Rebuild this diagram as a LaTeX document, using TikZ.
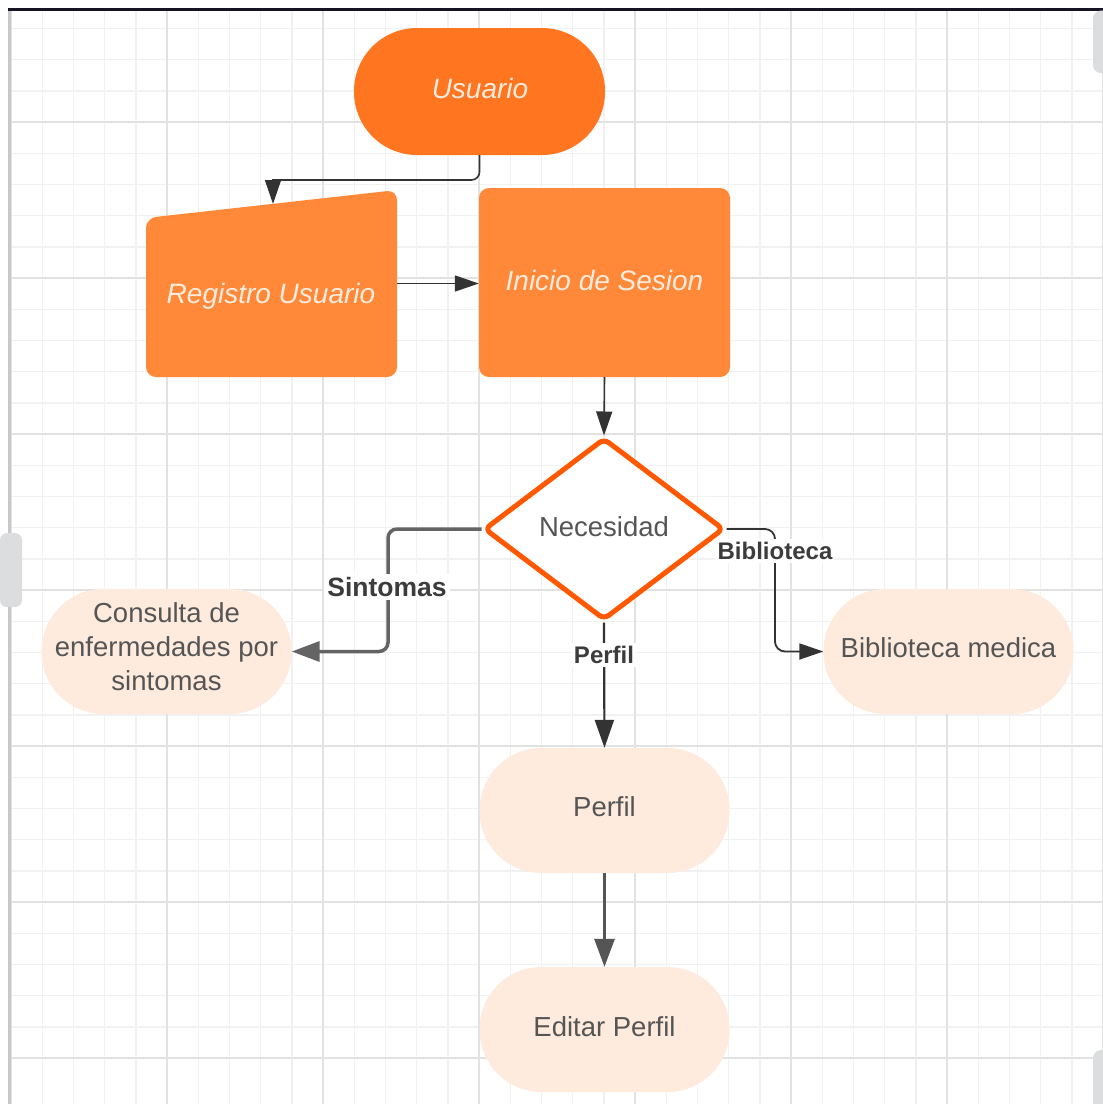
\documentclass[tikz,border=0pt]{standalone}
\usepackage{fontspec}
\setmainfont{Liberation Sans}
\usetikzlibrary{arrows.meta,shapes.geometric}
\definecolor{gridminor}{RGB}{241,241,241}
\definecolor{gridmajor}{RGB}{226,226,226}
\definecolor{usrfill}{RGB}{255,117,32}
\definecolor{boxfill}{RGB}{255,137,56}
\definecolor{lightfill}{RGB}{254,235,221}
\definecolor{necline}{RGB}{255,88,0}
\definecolor{txtgray}{RGB}{85,85,85}
\definecolor{lblgray}{RGB}{60,60,60}
\definecolor{darkline}{RGB}{51,51,51}
\definecolor{midgray}{RGB}{100,100,100}
\definecolor{wtxt}{RGB}{255,236,222}
\definecolor{tabgray}{RGB}{220,221,223}
\definecolor{leftborder}{RGB}{200,200,204}
\definecolor{topborder}{RGB}{22,20,36}
\tikzset{
  x=1pt, y=-1pt,
  stadium/.style={rectangle, rounded corners=62pt, fill=lightfill, minimum width=250pt, minimum height=125pt, inner sep=0pt},
  stxt/.style={text=txtgray, font=\fontsize{27.5}{34}\selectfont, align=center, inner sep=0pt},
  orangebox/.style={rectangle, rounded corners=10pt, fill=boxfill, minimum width=251pt, minimum height=189pt, inner sep=0pt},
  wlabel/.style={text=wtxt, font=\fontsize{28}{34}\selectfont\itshape, inner sep=0pt},
  edgelbl/.style={fill=white, inner sep=3pt, text=lblgray, font=\fontsize{24}{28}\selectfont\bfseries},
  thinarrow/.style={draw=darkline, line width=1.6pt, -{Triangle[length=24pt,width=16pt]}},
  midarrow/.style={draw=darkline, line width=2.2pt, -{Triangle[length=28pt,width=19pt]}},
  grayarrow/.style={draw=midgray, line width=3.5pt, -{Triangle[length=28pt,width=20pt]}},
}
\begin{document}
\begin{tikzpicture}
\useasboundingbox (0,0) rectangle (1103,1104);
\fill[white] (0,0) rectangle (1103,1104);
% grid
\begin{scope}
\clip (10,10) rectangle (1103,1104);
\foreach \k in {-5,...,30} {
  \pgfmathsetmacro{\gx}{167+31.2*\k}
  \pgfmathsetmacro{\gy}{122+31.2*\k}
  \draw[gridminor, line width=1.4pt] (\gx,10) -- (\gx,1104);
  \draw[gridminor, line width=1.4pt] (10,\gy) -- (1103,\gy);
}
\foreach \k in {-1,...,6} {
  \pgfmathsetmacro{\gx}{167+156*\k}
  \pgfmathsetmacro{\gy}{122+156*\k}
  \draw[gridmajor, line width=1.4pt] (\gx,10) -- (\gx,1104);
  \draw[gridmajor, line width=1.4pt] (10,\gy) -- (1103,\gy);
}
\end{scope}
% frame and tabs
\draw[leftborder, line width=3pt] (9,10) -- (9,1104);
\draw[topborder, line width=3pt] (8,9) -- (1103,9);
\fill[tabgray, rounded corners=8pt] (1093,10.5) rectangle (1115,73);
\fill[tabgray, rounded corners=8pt] (1093,1050) rectangle (1115,1115);
\fill[tabgray, rounded corners=7pt] (0,533) rectangle (22,607);

% nodes
\node[rectangle, rounded corners=63pt, fill=usrfill, minimum width=251pt, minimum height=127pt, inner sep=0pt] (usr) at (479.5,91.5) {};
\node[wlabel] (usrtxt) at (480,88) {Usuario};

\fill[boxfill, rounded corners=10pt] (146,218) -- (397,190) -- (397,377) -- (146,377) -- cycle;
\node[rectangle, minimum width=251pt, minimum height=187pt, inner sep=0pt] (reg) at (271.5,283.5) {};
\node[wlabel] (regtxt) at (271,296) {Registro Usuario};
\coordinate (regtop) at (273,204);

\node[orangebox] (ini) at (604.5,282.5) {};
\node[wlabel] (initxt) at (604.5,280) {Inicio de Sesion};

\node[diamond, aspect=1.32, minimum width=240pt, minimum height=182pt, inner sep=0pt, draw=necline, line width=5pt, rounded corners=6pt, fill=white] (nec) at (604,529) {};
\node[text=txtgray, font=\fontsize{27.5}{34}\selectfont, inner sep=0pt] (nectxt) at (604,527) {Necesidad};

\node[stadium] (con) at (166.5,651.5) {};
\node[stxt] (contxt) at (166.5,647) {Consulta de\\enfermedades por\\sintomas};
\node[stadium] (bib) at (948.5,651.5) {};
\node[stxt] (bibtxt) at (948.5,647.5) {Biblioteca medica};
\node[stadium] (per) at (604.5,810.5) {};
\node[stxt] (pertxt) at (604.5,807) {Perfil};
\node[stadium] (edi) at (604.5,1029.5) {};
\node[stxt] (editxt) at (604.5,1026.5) {Editar Perfil};

% connectors
\draw[thinarrow] (usr.south) [rounded corners=8pt] -- (usr.south |- 0,180) [sharp corners] -- (regtop |- 0,180) -- (regtop);
\draw[thinarrow] (reg.east) -- (reg.east -| ini.west);
\draw[thinarrow] (ini.south) -- (nec.north);
\coordinate (sx) at (388,0);
\draw[grayarrow, rounded corners=9pt] (nec.west) -| (sx |- con.east) -- (con.east);
\coordinate (bx) at (775,0);
\draw[thinarrow, line width=1.8pt, rounded corners=10pt] (nec.east) -| (bx |- bib.west) -- (bib.west);
\draw[midarrow] (nec.south) -- (per.north);
\draw[grayarrow, draw=txtgray, line width=3pt] (per.south) -- (edi.north);

% edge labels
\node[edgelbl, font=\fontsize{26.5}{30}\selectfont\bfseries] (lsin) at (387,587) {Sintomas};
\node[edgelbl] (lbib) at (775,551) {Biblioteca};
\node[edgelbl] (lper) at (604,655) {Perfil};
\end{tikzpicture}
\end{document}
